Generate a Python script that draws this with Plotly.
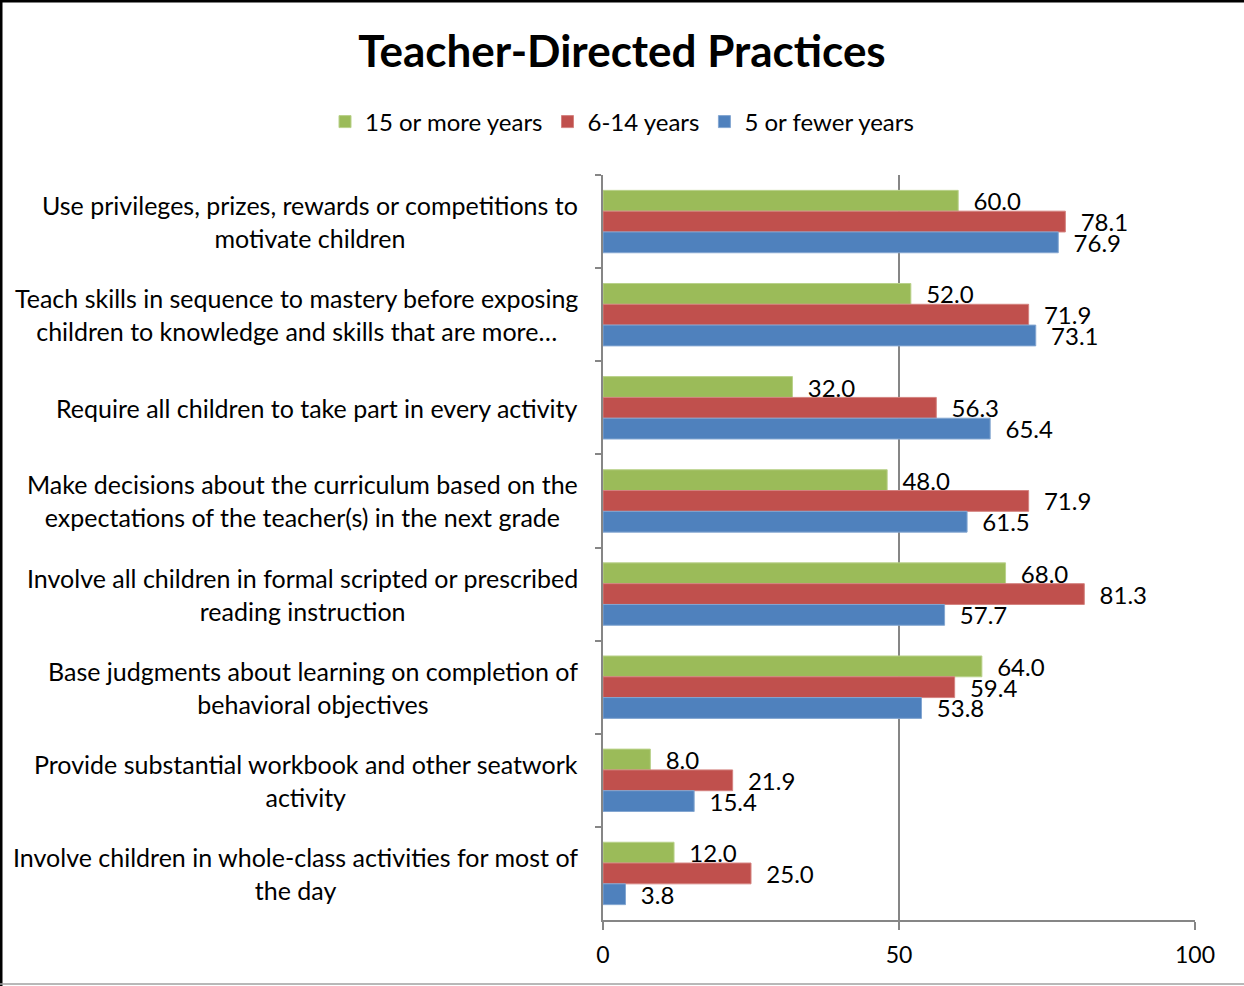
import plotly.graph_objects as go

categories = [
    "Use privileges, prizes, rewards or competitions to<br>motivate children",
    "Teach skills in sequence to mastery before exposing<br>children to knowledge and skills that are more…",
    "Require all children to take part in every activity",
    "Make decisions about the curriculum based on the<br>expectations of the teacher(s) in the next grade",
    "Involve all children in formal scripted or prescribed<br>reading instruction",
    "Base judgments about learning on completion of<br>behavioral objectives",
    "Provide substantial workbook and other seatwork<br>activity",
    "Involve children in whole-class activities for most of<br>the day",
]
series_names = ["15 or more years", "6-14 years", "5 or fewer years"]
values_15plus = [60.0, 52.0, 32.0, 48.0, 68.0, 64.0, 8.0, 12.0]
values_6_14 = [78.1, 71.9, 56.3, 71.9, 81.3, 59.4, 21.9, 25.0]
values_5less = [76.9, 73.1, 65.4, 61.5, 57.7, 53.8, 15.4, 3.8]
colors = ["#9BBB59", "#C0504D", "#4F81BD"]
edge_colors = ["#B9D18A", "#D4827F", "#83A6D1"]
x_ticks = [0, 50, 100]

FONT = "Lato"
fig = go.Figure()
for name, vals, col, ecol in zip(series_names, [values_15plus, values_6_14, values_5less], colors, edge_colors):
    fig.add_trace(go.Bar(
        y=categories, x=vals, name=name, orientation="h",
        marker=dict(color=col, line=dict(color=ecol, width=1)),
        text=[f"\u00a0\u00a0{v:.1f}" for v in vals],
        textposition="outside", cliponaxis=False, constraintext="none",
        textfont=dict(family=FONT, size=24, color="#000000"),
    ))

for cat in categories:
    fig.add_annotation(
        x=0, xref="paper", y=cat, yref="y", xanchor="right", xshift=-23,
        text=cat, showarrow=False, align="center",
        font=dict(family=FONT, size=25, color="#000000"),
    )

fig.update_layout(
    width=1244, height=986,
    paper_bgcolor="white", plot_bgcolor="white",
    margin=dict(l=603, r=49, t=175, b=66),
    barmode="group", bargap=0.33, bargroupgap=0,
    title=dict(text="<b>Teacher-Directed Practices</b>", x=0.5, xref="container", xanchor="center",
               y=(986 - 52) / 986, yref="container", yanchor="middle",
               font=dict(family=FONT, size=44, color="#000000")),
    legend=dict(orientation="h", x=0.5, xref="container", xanchor="center",
                y=(986 - 122) / 986, yref="container",
                yanchor="middle", font=dict(family=FONT, size=24, color="#000000"),
                traceorder="normal", itemwidth=30, entrywidthmode="pixels", entrywidth=0),
    showlegend=True,
    xaxis=dict(range=[0, 100], tickvals=x_ticks, showgrid=True, gridcolor="#868686", gridwidth=1.5,
               zeroline=False, showline=True, linecolor="#868686", linewidth=1.5,
               ticks="outside", ticklen=8, tickcolor="#868686", tickwidth=1.5,
               ticklabelstandoff=6,
               tickfont=dict(family=FONT, size=23, color="#000000"), mirror=False),
    yaxis=dict(autorange="reversed", showticklabels=False, showline=True, linecolor="#868686",
               linewidth=1.5, ticks="outside", tickson="boundaries", ticklen=6,
               tickcolor="#868686", tickwidth=1.5, showgrid=False, zeroline=False),
)

# chart border
fig.add_shape(type="line", xref="paper", yref="paper", x0=-603/592, x1=-603/592 + 1244/592,
              y0=1 + 174/745, y1=1 + 174/745, line=dict(color="black", width=3))
fig.add_shape(type="line", xref="paper", yref="paper", x0=-602/592, x1=-602/592,
              y0=1 + 175/745, y1=-66/745, line=dict(color="black", width=3))
fig.add_shape(type="line", xref="paper", yref="paper", x0=-603/592, x1=-603/592 + 1244/592,
              y0=-64/745, y1=-64/745, line=dict(color="#A0A0A0", width=1.5))

fig.write_html("out.html", config={"displayModeBar": False},
               post_script="document.body.style.margin='0';")
